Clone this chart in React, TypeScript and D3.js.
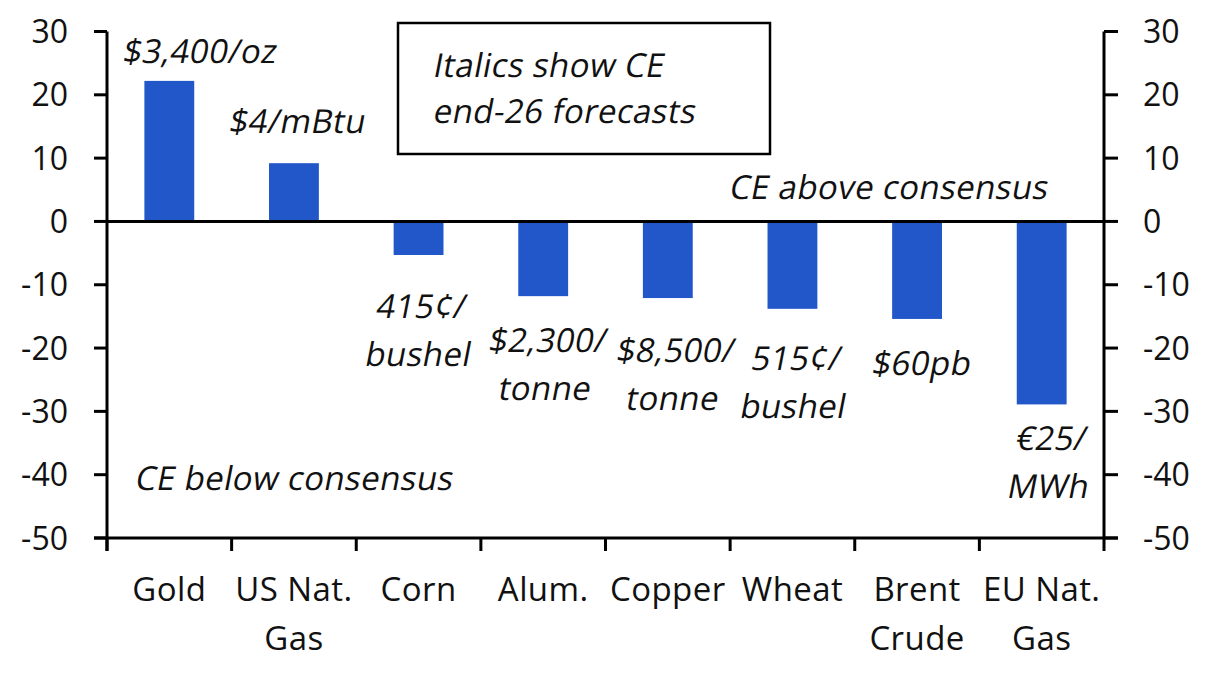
import React from "react";
import { scaleBand, scaleLinear } from "d3";

// Gap between Capital Economics end-26 forecasts and consensus (%)
const categories = ["Gold", "US Nat. Gas", "Corn", "Alum.", "Copper", "Wheat", "Brent Crude", "EU Nat. Gas"];
const categoryLines = [["Gold"], ["US Nat.", "Gas"], ["Corn"], ["Alum."], ["Copper"], ["Wheat"], ["Brent", "Crude"], ["EU Nat.", "Gas"]];
const values = [22.2, 9.2, -5.3, -11.8, -12.1, -13.8, -15.4, -28.9];
const forecastLines = [
  ["$3,400/oz"],
  ["$4/mBtu"],
  ["415¢/", "bushel"],
  ["$2,300/", "tonne"],
  ["$8,500/", "tonne"],
  ["515¢/", "bushel"],
  ["$60pb"],
  ["€25/", "MWh"]
];
const yTicks = [30, 20, 10, 0, -10, -20, -30, -40, -50];

// label nudges, relative to the end of each bar
const labelDx = [29, 2, 1, 3, 6, 2, 3, 8];
const labelDy = [-18, -30, 63, 56, 64, 61, 56, 46];

const W = 1206;
const H = 677;
const left = 107;
const right = 1104;
const top = 31.5;
const bottom = 538;
const font = "'Open Sans', 'Noto Sans', sans-serif";
const blue = "#2157C9";
const ink = "#111";

// the source uses a wide italic, so slant the regular face line by line
const Slanted = ({ x, y, lines, anchor = "start", lh = 48 }: any) => (
  <g>
    {lines.map((l: string, j: number) => (
      <g key={j} transform={`translate(${j === 0 ? x : x - 3},${y + j * lh}) skewX(-11)`}>
        <text x={0} y={0} textAnchor={anchor} fontSize={33} letterSpacing={0.4} fill={ink}>
          {l}
        </text>
      </g>
    ))}
  </g>
);

export default function App() {
  const x = scaleBand<string>().domain(categories).range([left, right]).padding(0);
  const y = scaleLinear().domain([-50, 30]).range([bottom, top]);
  const barW = x.step() * 0.4;
  const fs = 32;
  const mid = (i: number) => x(categories[i])! + x.bandwidth() / 2;

  return (
    <svg
      width={W}
      height={H}
      style={{ position: "absolute", left: 0, top: 0, background: "#fff" }}
      fontFamily={font}
    >
      {/* bars */}
      {values.map((v, i) => (
        <rect
          key={"b" + i}
          x={mid(i) - barW / 2}
          y={Math.min(y(v), y(0))}
          width={barW}
          height={Math.abs(y(v) - y(0))}
          fill={blue}
        />
      ))}

      {/* zero line */}
      <line x1={left} x2={right} y1={y(0)} y2={y(0)} stroke="#000" strokeWidth={3} />

      {/* axes */}
      <line x1={left} x2={left} y1={top} y2={bottom + 13} stroke="#000" strokeWidth={3} />
      <line x1={right} x2={right} y1={top} y2={bottom + 13} stroke="#000" strokeWidth={3} />
      <line x1={left - 13} x2={right + 14} y1={bottom} y2={bottom} stroke="#000" strokeWidth={3} />
      {yTicks.map(t => (
        <g key={"t" + t}>
          <line x1={left - 13} x2={left} y1={y(t)} y2={y(t)} stroke="#000" strokeWidth={3} />
          <line x1={right} x2={right + 14} y1={y(t)} y2={y(t)} stroke="#000" strokeWidth={3} />
          <text x={68} y={y(t)} dy="0.36em" textAnchor="end" fontSize={fs} fill={ink}>
            {t < 0 ? "-" + Math.abs(t) : t}
          </text>
          <text x={1143} y={y(t)} dy="0.36em" textAnchor="start" fontSize={fs} fill={ink}>
            {t < 0 ? "-" + Math.abs(t) : t}
          </text>
        </g>
      ))}
      {categories.map((c, i) => (
        <line
          key={"xt" + i}
          x1={x(c)!}
          x2={x(c)!}
          y1={bottom}
          y2={bottom + 13}
          stroke="#000"
          strokeWidth={3}
        />
      ))}

      {/* category labels */}
      {categoryLines.map((lines, i) => (
        <text
          key={"c" + i}
          x={mid(i)}
          y={601}
          textAnchor="middle"
          fontSize={33}
          letterSpacing={0.4}
          fill={ink}
        >
          {lines.map((l, j) => (
            <tspan key={j} x={mid(i)} dy={j === 0 ? 0 : 49}>
              {l}
            </tspan>
          ))}
        </text>
      ))}

      {/* forecast labels */}
      {forecastLines.map((lines, i) => (
        <Slanted
          key={"f" + i}
          x={mid(i) + labelDx[i]}
          y={y(values[i]) + labelDy[i]}
          anchor="middle"
          lines={lines}
        />
      ))}

      {/* annotations */}
      <rect x={398} y={23} width={372} height={131} fill="#fff" stroke="#000" strokeWidth={2.5} />
      <Slanted x={432} y={77} lines={["Italics show CE"]} />
      <Slanted x={432} y={123} lines={["end-26 forecasts"]} />
      <Slanted x={1047} y={199} anchor="end" lines={["CE above consensus"]} />
      <Slanted x={134} y={490} lines={["CE below consensus"]} />
    </svg>
  );
}
